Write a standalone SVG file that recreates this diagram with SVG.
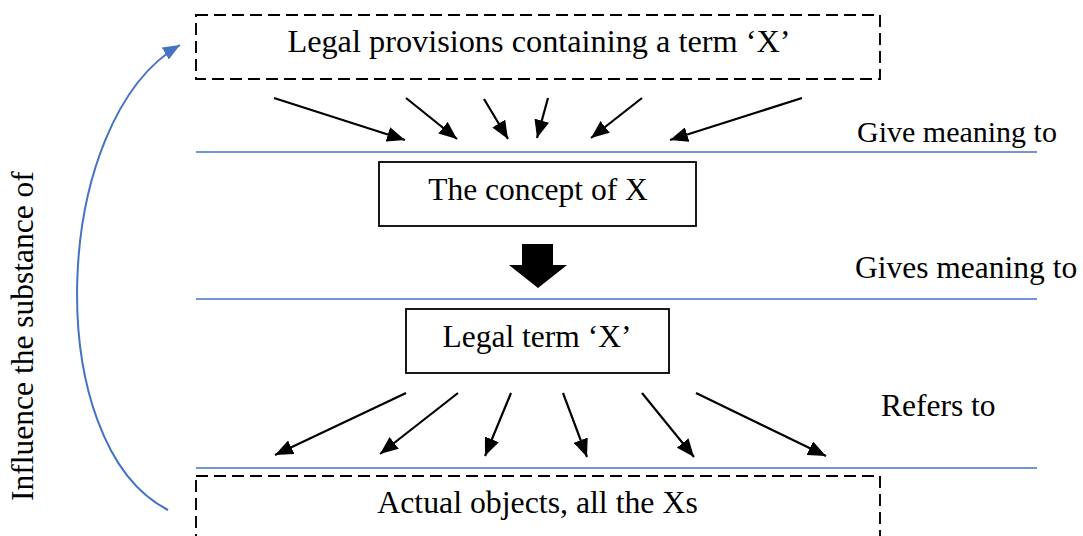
<svg xmlns="http://www.w3.org/2000/svg" width="1083" height="536" viewBox="0 0 1083 536">
<defs>
<style>
text{font-family:'Liberation Serif','Times New Roman',Times,serif;font-size:31.5px;fill:#000}
.mid{text-anchor:middle}
.dash{fill:#fff;stroke:#000;stroke-width:1.9;stroke-dasharray:12 6}
.solid{fill:#fff;stroke:#000;stroke-width:1.8}
.arr{stroke:#000;stroke-width:2.2;fill:none;marker-end:url(#ah)}
.sep{stroke:#4472C4;stroke-width:1.3}
</style>
<marker id="ah" markerUnits="userSpaceOnUse" viewBox="0 0 18 15" refX="18" refY="7.5" markerWidth="18" markerHeight="15" orient="auto">
<path d="M0,0 L18,7.5 L0,15 z" fill="#000"/>
</marker>
<marker id="bh" markerUnits="userSpaceOnUse" viewBox="0 0 17 14" refX="17" refY="7" markerWidth="17" markerHeight="14" orient="auto">
<path d="M0,0 L17,7 L0,14 z" fill="#4472C4"/>
</marker>
</defs>
<rect width="1083" height="536" fill="#fff"/>
<g id="separators">
<line class="sep" x1="196" y1="152" x2="1037" y2="152"/>
<line class="sep" x1="196" y1="299" x2="1037" y2="299"/>
<line class="sep" x1="196" y1="468" x2="1037" y2="468"/>
</g>
<g id="provisions">
<rect class="dash" x="196" y="15" width="684" height="64"/>
<text class="mid" x="539" y="52" style="font-size:32.3px">Legal provisions containing a term ‘X’</text>
</g>
<g id="concept">
<rect class="solid" x="379" y="162" width="317" height="64"/>
<text class="mid" x="538" y="200">The concept of X</text>
</g>
<g id="term">
<rect class="solid" x="406" y="309" width="263" height="64"/>
<text class="mid" x="537" y="347">Legal term ‘X’</text>
</g>
<g id="objects">
<rect class="dash" x="196" y="476" width="684" height="80"/>
<text class="mid" x="537.5" y="513" style="font-size:31.8px">Actual objects, all the Xs</text>
</g>
<g id="labels">
<text x="857" y="142" style="font-size:30px">Give meaning to</text>
<text x="855" y="278">Gives meaning to</text>
<text x="881" y="416">Refers to</text>
<text class="mid" transform="translate(33,336) rotate(-90)">Influence the substance of</text>
</g>
<g id="connectors">
<line class="arr" x1="274" y1="98" x2="405" y2="140"/>
<line class="arr" x1="406" y1="98" x2="457" y2="139"/>
<line class="arr" x1="484" y1="99" x2="508" y2="139"/>
<line class="arr" x1="548" y1="98" x2="537" y2="138"/>
<line class="arr" x1="642" y1="98" x2="591" y2="138"/>
<line class="arr" x1="802" y1="98" x2="670" y2="140"/>
<polygon points="522,244 553,244 553,265 567,265 538,288 509,265 522,265" fill="#000"/>
<line class="arr" x1="406" y1="393" x2="275" y2="455"/>
<line class="arr" x1="458" y1="393" x2="380" y2="454"/>
<line class="arr" x1="511" y1="393" x2="485" y2="456"/>
<line class="arr" x1="563" y1="393" x2="587" y2="457"/>
<line class="arr" x1="642" y1="393" x2="694" y2="457"/>
<line class="arr" x1="696" y1="393" x2="826" y2="456"/>
<path d="M168,510 C40,445 50,120 180,45" fill="none" stroke="#4472C4" stroke-width="2" marker-end="url(#bh)"/>
</g>
</svg>
